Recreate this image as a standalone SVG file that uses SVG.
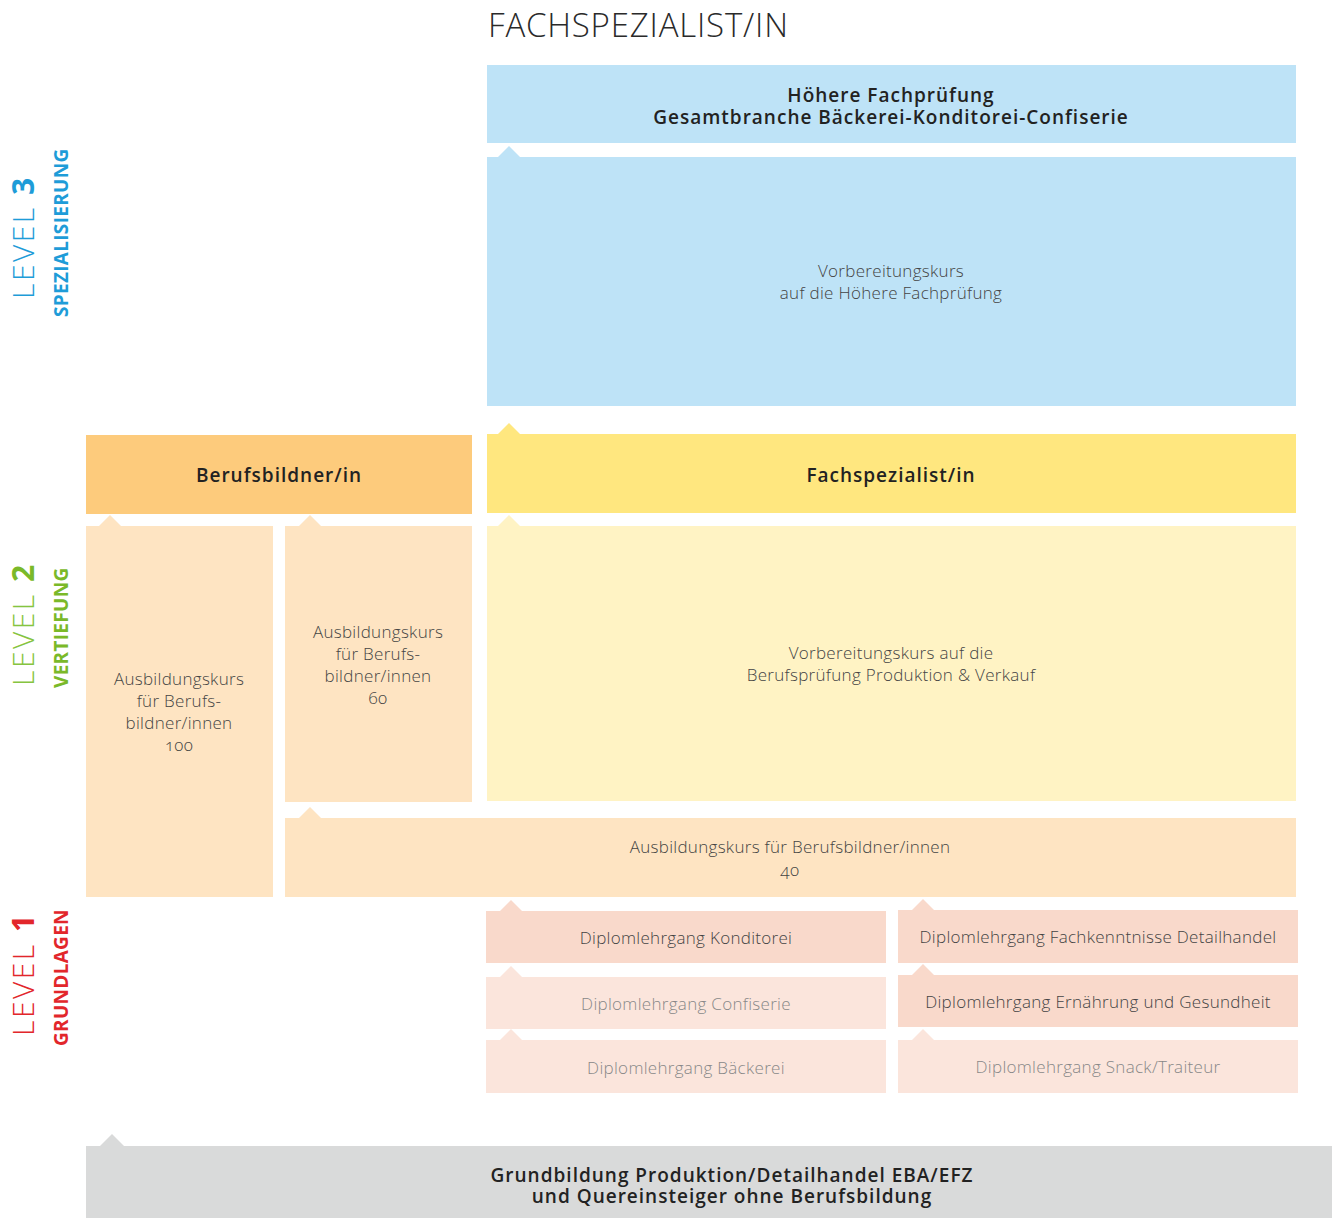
<svg xmlns="http://www.w3.org/2000/svg" width="1332" height="1218" viewBox="0 0 1332 1218">
<style>
text{font-family:"Open Sans","Noto Sans","Liberation Sans",sans-serif;text-anchor:middle}
.b{font-size:19px;font-weight:600;fill:#222;letter-spacing:1px}
.t{font-size:17px;font-weight:300;fill:#444;letter-spacing:0.3px;font-variant-numeric:oldstyle-nums}
.tl{font-size:17px;font-weight:300;fill:#888;letter-spacing:0.3px}
.lv{font-size:30px;font-weight:300;text-anchor:start;letter-spacing:2.5px}
.lvn{font-weight:700}
.sub{font-size:19px;font-weight:700;text-anchor:start;letter-spacing:0.3px}
.blue{fill:#BEE3F7}.yel{fill:#FFE77F}.ora{fill:#FDCB7C}.lora{fill:#FEE4C2}.lyel{fill:#FFF3C4}
.sal{fill:#F9D9CB}.lsal{fill:#FBE5DC}.gray{fill:#D9DADA}
</style>
<rect width="1332" height="1218" fill="#fff"/>
<text x="488" y="37" style="font-size:33px;font-weight:300;fill:#2a2a2a;text-anchor:start;letter-spacing:0.8px">FACHSPEZIALIST/IN</text>

<g id="level3">
<text class="lv" transform="translate(34,299) rotate(-90)" fill="#1E9CD8">LEVEL <tspan class="lvn">3</tspan></text>
<text class="sub" transform="translate(68,317) rotate(-90)" fill="#1E9CD8">SPEZIALISIERUNG</text>
</g>
<g id="level2">
<text class="lv" transform="translate(34,686) rotate(-90)" fill="#86C440">LEVEL <tspan class="lvn" fill="#7AB929">2</tspan></text>
<text class="sub" transform="translate(68,688) rotate(-90)" fill="#7AB929">VERTIEFUNG</text>
</g>
<g id="level1">
<text class="lv" transform="translate(34,1036) rotate(-90)" fill="#E2262B">LEVEL <tspan class="lvn">1</tspan></text>
<text class="sub" transform="translate(68,1046) rotate(-90)" fill="#E2262B">GRUNDLAGEN</text>
</g>

<g id="hfp">
<rect class="blue" x="487" y="65" width="809" height="78"/>
<text class="b" x="891" y="102">Höhere Fachprüfung<tspan x="891" dy="22">Gesamtbranche Bäckerei-Konditorei-Confiserie</tspan></text>
</g>
<g id="vk-hfp">
<rect class="blue" x="487" y="157" width="809" height="249"/>
<polygon class="blue" points="498,157 509,146 520,157"/>
<text class="t" x="891" y="277">Vorbereitungskurs<tspan x="891" dy="22">auf die Höhere Fachprüfung</tspan></text>
</g>
<g id="berufsbildner">
<rect class="ora" x="86" y="435" width="386" height="79"/>
<text class="b" x="279" y="482">Berufsbildner/in</text>
</g>
<g id="fachspezialist">
<rect class="yel" x="487" y="434" width="809" height="79"/>
<polygon class="yel" points="498,434 509,423 520,434"/>
<text class="b" x="891" y="482">Fachspezialist/in</text>
</g>
<g id="abk100">
<rect class="lora" x="86" y="526" width="187" height="371"/>
<polygon class="lora" points="99,526 110,515 121,526"/>
<text class="t" x="179" y="685">Ausbildungskurs<tspan x="179" dy="22">für Berufs-</tspan><tspan x="179" dy="22">bildner/innen</tspan><tspan x="179" dy="22">100</tspan></text>
</g>
<g id="abk60">
<rect class="lora" x="285" y="526" width="187" height="276"/>
<polygon class="lora" points="299,526 310,515 321,526"/>
<text class="t" x="378" y="638">Ausbildungskurs<tspan x="378" dy="22">für Berufs-</tspan><tspan x="378" dy="22">bildner/innen</tspan><tspan x="378" dy="22">60</tspan></text>
</g>
<g id="vk-bp">
<rect class="lyel" x="487" y="526" width="809" height="275"/>
<polygon class="lyel" points="498,526 509,515 520,526"/>
<text class="t" x="891" y="659">Vorbereitungskurs auf die<tspan x="891" dy="22">Berufsprüfung Produktion &amp; Verkauf</tspan></text>
</g>
<g id="abk40">
<rect class="lora" x="285" y="818" width="1011" height="79"/>
<polygon class="lora" points="299,818 310,807 321,818"/>
<text class="t" x="790" y="853">Ausbildungskurs für Berufsbildner/innen<tspan x="790" dy="23">40</tspan></text>
</g>
<g id="dl-konditorei">
<rect class="sal" x="486" y="911" width="400" height="52"/>
<polygon class="sal" points="500,911 511,900 522,911"/>
<text class="t" x="686" y="944">Diplomlehrgang Konditorei</text>
</g>
<g id="dl-confiserie">
<rect class="lsal" x="486" y="977" width="400" height="52"/>
<polygon class="lsal" points="500,977 511,966 522,977"/>
<text class="tl" x="686" y="1010">Diplomlehrgang Confiserie</text>
</g>
<g id="dl-baeckerei">
<rect class="lsal" x="486" y="1040" width="400" height="53"/>
<polygon class="lsal" points="500,1040 511,1029 522,1040"/>
<text class="tl" x="686" y="1074">Diplomlehrgang Bäckerei</text>
</g>
<g id="dl-detailhandel">
<rect class="sal" x="898" y="910" width="400" height="53"/>
<polygon class="sal" points="912,910 923,899 934,910"/>
<text class="t" x="1098" y="943">Diplomlehrgang Fachkenntnisse Detailhandel</text>
</g>
<g id="dl-ernaehrung">
<rect class="sal" x="898" y="975" width="400" height="52"/>
<polygon class="sal" points="912,975 923,964 934,975"/>
<text class="t" x="1098" y="1008">Diplomlehrgang Ernährung und Gesundheit</text>
</g>
<g id="dl-snack">
<rect class="lsal" x="898" y="1040" width="400" height="53"/>
<polygon class="lsal" points="912,1040 923,1029 934,1040"/>
<text class="tl" x="1098" y="1073">Diplomlehrgang Snack/Traiteur</text>
</g>
<g id="grundbildung">
<rect class="gray" x="86" y="1146" width="1246" height="72"/>
<polygon class="gray" points="100,1146 112,1134 124,1146"/>
<text class="b" x="732" y="1182">Grundbildung Produktion/Detailhandel EBA/EFZ<tspan x="732" dy="21">und Quereinsteiger ohne Berufsbildung</tspan></text>
</g>
<g id="connectors"/>
</svg>
